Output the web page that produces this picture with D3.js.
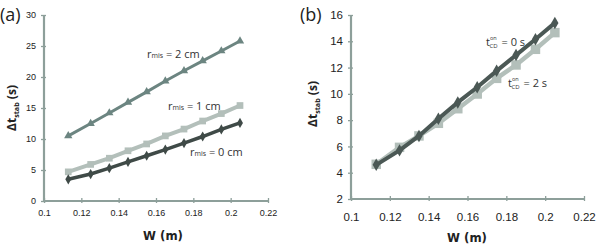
<!DOCTYPE html>
<html>
<head>
<meta charset="utf-8">
<script src="https://cdn.jsdelivr.net/npm/d3@7"></script>
<style>
body { margin: 0; background: #fff; }
svg { font-family: "Liberation Sans Narrow", "DejaVu Sans Condensed", "Open Sans", sans-serif; }
</style>
</head>
<body>
<div class="chart"></div>
<script>
// x values (m), same for every series
let widths = [0.113, 0.125, 0.135, 0.145, 0.155, 0.165, 0.175, 0.185, 0.195, 0.205];

// panel (a): r_mis series
let rmis2 = [10.5, 12.5, 14.2, 15.9, 17.6, 19.35, 21.0, 22.6, 24.2, 25.8];
let rmis1 = [4.7, 5.9, 6.9, 8.1, 9.2, 10.5, 11.6, 12.9, 14.1, 15.4];
let rmis0 = [3.5, 4.35, 5.3, 6.3, 7.3, 8.3, 9.35, 10.4, 11.55, 12.6];

// panel (b): t_CD^on series
let tcd0 = [4.6, 5.7, 6.8, 8.1, 9.35, 10.5, 11.75, 12.95, 14.15, 15.4];
let tcd2 = [4.64, 5.93, 6.8, 7.76, 8.87, 9.99, 11.18, 12.2, 13.39, 14.66];

let xTicks = [0.1, 0.12, 0.14, 0.16, 0.18, 0.2, 0.22];
let yTicksA = [0, 5, 10, 15, 20, 25, 30];
let yTicksB = [2, 4, 6, 8, 10, 12, 14, 16];

let w = 604;
let h = 250;
let axisColor = '#8d9f9a';

let svg = d3.select('.chart').append('svg').attr('width', w).attr('height', h);

function zip(ys) {
	return ys.map((y, i) => [widths[i], y]);
}

function drawAxes(g, xScale, yScale, yTicks, fs, tickPad) {
	let xAxis = g
		.append('g')
		.attr('transform', 'translate(0,' + yScale.range()[0] + ')')
		.call(d3.axisBottom(xScale).tickValues(xTicks).tickFormat(d3.format('')).tickSize(3).tickPadding(tickPad));
	let yAxis = g
		.append('g')
		.attr('transform', 'translate(' + xScale.range()[0] + ',0)')
		.call(d3.axisLeft(yScale).tickValues(yTicks).tickSize(4).tickPadding(4));

	[xAxis, yAxis].forEach((a) => {
		a.select('.domain').attr('stroke', axisColor).attr('stroke-width', 2.2);
		a.selectAll('.tick line').attr('stroke', axisColor).attr('stroke-width', 1.3);
		a.selectAll('.tick text').attr('fill', '#222').style('font-size', fs + 'px');
	});
	// ticks cross the axis a little
	xAxis.selectAll('.tick line').attr('y1', -3).attr('y2', 2);
	yAxis.selectAll('.tick line').attr('x1', -3).attr('x2', 2);
	xAxis.select('.domain').attr('d', 'M' + xScale.range()[0] + ',0H' + xScale.range()[1]);
	yAxis.select('.domain').attr('d', 'M0,' + yScale.range()[0] + 'V' + yScale.range()[1]);
}

function drawSeries(g, xScale, yScale, ys, color, lw, symbol, size) {
	let line = d3.line().x((d) => xScale(d[0])).y((d) => yScale(d[1]));
	g.append('path').datum(zip(ys)).attr('fill', 'none').attr('stroke', color).attr('stroke-width', lw).attr('d', line);
	g
		.selectAll(null)
		.data(zip(ys))
		.enter()
		.append('path')
		.attr('transform', (d) => 'translate(' + xScale(d[0]) + ',' + yScale(d[1]) + ')')
		.attr('d', d3.symbol().type(symbol).size(size))
		.attr('fill', color);
}

function yLabel(g, x, y, size) {
	let t = g
		.append('text')
		.attr('transform', 'translate(' + x + ',' + y + ') rotate(-90)')
		.attr('text-anchor', 'middle')
		.attr('font-weight', 'bold')
		.style('font-family', '"Open Sans", sans-serif')
		.style('font-size', size + 'px')
		.attr('fill', '#222');
	t.append('tspan').text('Δt');
	t.append('tspan').attr('dy', 3).style('font-size', size * 0.6 + 'px').text('stab');
	t.append('tspan').attr('dy', -3).text(' (s)');
}

function xLabel(g, x, y, size) {
	g
		.append('text')
		.attr('x', x)
		.attr('y', y)
		.attr('text-anchor', 'middle')
		.attr('font-weight', 'bold')
		.style('font-size', size + 'px')
		.attr('fill', '#222')
		.text('W (m)');
}

// ---------- panel (a)
let xA = d3.scaleLinear().domain([ 0.1, 0.22 ]).range([ 44, 268 ]);
let yA = d3.scaleLinear().domain([ 0, 30 ]).range([ 201, 15 ]);
let gA = svg.append('g');
drawAxes(gA, xA, yA, yTicksA, 9, 6);
drawSeries(gA, xA, yA, rmis2, '#6c8581', 3, d3.symbolTriangle, 30);
drawSeries(gA, xA, yA, rmis1, '#b3bfba', 4, d3.symbolSquare, 45);
drawSeries(gA, xA, yA, rmis0, '#3f4a47', 3.5, d3.symbolDiamond, 30);
yLabel(gA, 16, 108, 12);
xLabel(gA, 163, 240, 13);

gA.append('text').attr('x', 0).attr('y', 21).style('font-family', '"Open Sans", sans-serif').style('font-size', '18px').attr('fill', '#222').text('(a)');

function rLabel(g, x, y, val) {
	let t = g.append('text').attr('x', x).attr('y', y).style('font-family', '"Open Sans", sans-serif').style('font-size', '11px').attr('fill', '#333');
	t.append('tspan').text('r');
	t.append('tspan').style('font-size', '7px').text('mis');
	t.append('tspan').text(' = ' + val + ' cm');
}
rLabel(gA, 147, 58, 2);
rLabel(gA, 168, 110, 1);
rLabel(gA, 190, 156, 0);

// ---------- panel (b)
let xB = d3.scaleLinear().domain([ 0.1, 0.22 ]).range([ 351, 584 ]);
let yB = d3.scaleLinear().domain([ 2, 16 ]).range([ 199, 15 ]);
let gB = svg.append('g');
drawAxes(gB, xB, yB, yTicksB, 11.5, 11);
drawSeries(gB, xB, yB, tcd2, '#b3bfba', 4.5, d3.symbolSquare, 90);
drawSeries(gB, xB, yB, tcd0, '#4b5855', 4, d3.symbolDiamond, 45);
yLabel(gB, 317, 104, 12);
xLabel(gB, 467, 242, 13);

gB.append('text').attr('x', 300).attr('y', 21).style('font-family', '"Open Sans", sans-serif').style('font-size', '18px').attr('fill', '#222').text('(b)');

// t with "on" stacked above "CD"
function tLabel(g, x, y, val) {
	let style = (s, fs) => s.style('font-family', '"Open Sans", sans-serif').style('font-size', fs + 'px').attr('fill', '#333');
	style(g.append('text').attr('x', x).attr('y', y), 11).text('t');
	style(g.append('text').attr('x', x + 4).attr('y', y - 6.5), 5.5).text('on');
	style(g.append('text').attr('x', x + 3.5).attr('y', y + 2), 6).text('CD');
	style(g.append('text').attr('x', x + 15.5).attr('y', y), 11).text('= ' + val + ' s');
}
tLabel(gB, 486, 46, 0);
tLabel(gB, 508, 87, 2);
</script>
</body>
</html>
